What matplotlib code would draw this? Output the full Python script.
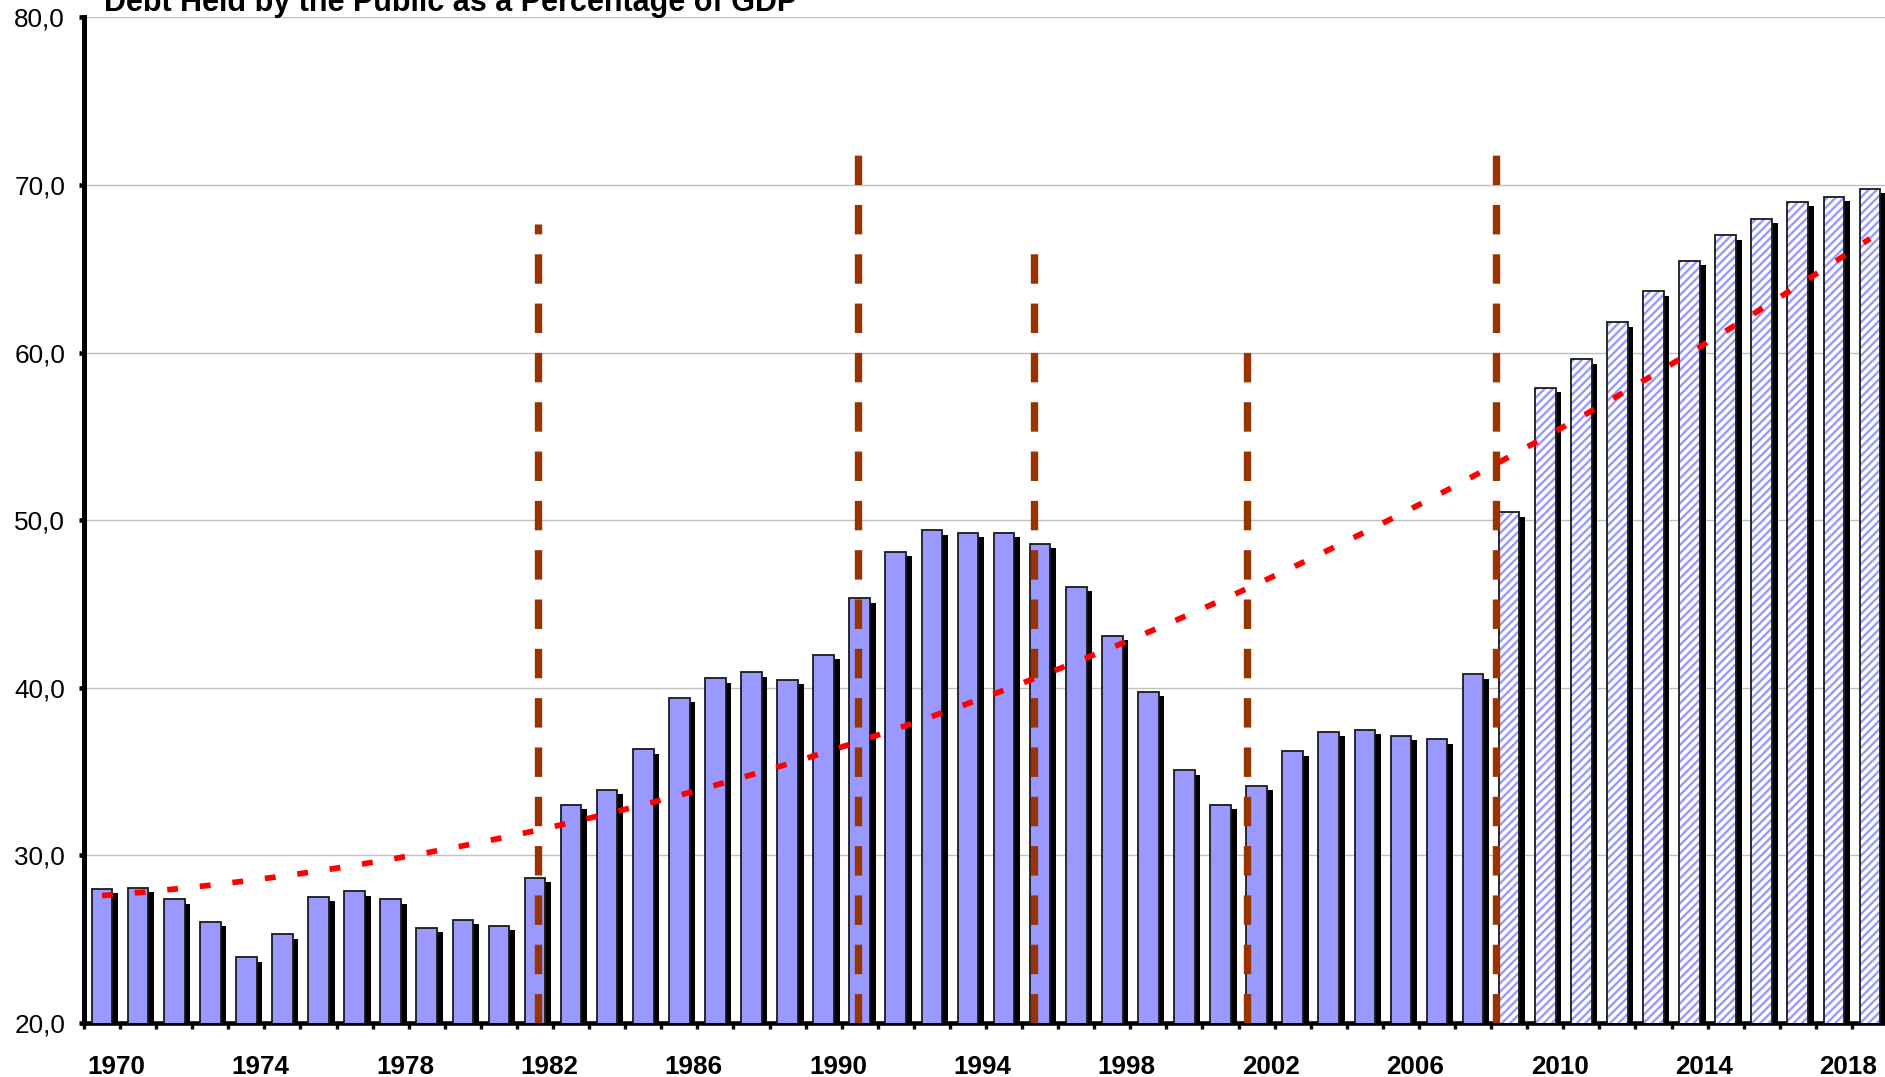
import matplotlib
matplotlib.use("Agg")
import matplotlib.pyplot as plt
from matplotlib.ticker import FuncFormatter

plt.rcParams['font.family'] = ['Liberation Sans', 'DejaVu Sans']
plt.rcParams['hatch.linewidth'] = 1.7

title = "Debt Held by the Public as a Percentage of GDP"

years = list(range(1970, 2020))
debt = [27.99, 28.08, 27.39, 26.03, 23.92, 25.30, 27.51, 27.85, 27.39, 25.67,
        26.15, 25.79, 28.65, 33.02, 33.91, 36.33, 39.40, 40.56, 40.92, 40.46,
        41.95, 45.33, 48.13, 49.40, 49.26, 49.26, 48.60, 46.04, 43.10, 39.76,
        35.08, 33.02, 34.15, 36.21, 37.38, 37.48, 37.14, 36.93, 40.80, 50.48,
        57.89, 59.60, 61.81, 63.66, 65.48, 66.99, 67.99, 68.98, 69.28, 69.76]
# trend line (one value per year)
trend = [27.60, 27.78, 27.99, 28.22, 28.48, 28.76, 29.07, 29.41, 29.77, 30.16,
         30.57, 31.01, 31.47, 31.96, 32.48, 33.02, 33.59, 34.19, 34.81, 35.45,
         36.12, 36.82, 37.54, 38.29, 39.06, 39.86, 40.69, 41.54, 42.41, 43.32,
         44.25, 45.20, 46.18, 47.19, 48.23, 49.29, 50.37, 51.48, 52.62, 53.78,
         54.96, 56.17, 57.41, 58.67, 59.96, 61.28, 62.62, 63.99, 65.38, 66.80]
first_projected = 2009

# brown dashed markers: position (fractional year) and height
event_years = [1982.09, 1990.94, 1995.82, 2001.73, 2008.64]
event_tops = [67.7, 71.9, 66.1, 60.3, 72.1]

label_years = years[::4]

bar_color = '#9999FF'
edge_color = '#1a1a1a'
bar_w = 0.573
shadow_dx = 0.157
shadow_dy = 0.26

fig = plt.figure(figsize=(18.85, 10.77), dpi=100)
ax = fig.add_axes([84 / 1885, 1 - 1023 / 1077, (1888 - 84) / 1885, (1023 - 17.4) / 1077])

# shadows
ax.bar([y + shadow_dx for y in years], [d - shadow_dy for d in debt], bar_w,
       color='black', linewidth=0, zorder=2)

hist_x = [y for y in years if y < first_projected]
hist_v = [d for y, d in zip(years, debt) if y < first_projected]
proj_x = [y for y in years if y >= first_projected]
proj_v = [d for y, d in zip(years, debt) if y >= first_projected]

ax.bar(hist_x, hist_v, bar_w, color=bar_color, edgecolor=edge_color,
       linewidth=1.3, zorder=3)
ax.bar(proj_x, proj_v, bar_w, color='white', edgecolor=bar_color,
       hatch='////', linewidth=0, zorder=3)
ax.bar(proj_x, proj_v, bar_w, color='none', edgecolor=edge_color,
       linewidth=1.3, zorder=3)

for x, top in zip(event_years, event_tops):
    ax.plot([x, x], [20, top], color='#993300', lw=5.3,
            linestyle=(0, (4.0, 2.7)), dash_capstyle='butt', zorder=4)

ax.plot(years, trend, color='#FF0000', lw=4.1, linestyle=(0, (1.9, 3.85)),
        dash_capstyle='butt', zorder=5)

ax.set_xlim(years[0] - 0.5, years[-1] + 0.5)
ax.set_ylim(20, 80)
ax.set_yticks(range(20, 81, 10))
ax.yaxis.set_major_formatter(FuncFormatter(lambda v, p: f"{v:.1f}".replace('.', ',')))
ax.yaxis.grid(True, color='#C0C0C0', linewidth=1.0)
ax.set_axisbelow(True)

ax.set_xticks([y + 0.5 for y in years[:-1]] + [years[0] - 0.5])
ax.set_xticklabels([])
ax.set_xticks([y + 0.4 for y in label_years], minor=True)
ax.set_xticklabels([str(y) for y in label_years], minor=True,
                   fontsize=18.7, fontweight='bold')

ax.tick_params(axis='x', which='major', direction='out', length=4.3, width=2.4)
ax.tick_params(axis='x', which='minor', length=0, pad=23)
ax.tick_params(axis='y', direction='out', length=3.6, width=3.3, pad=10,
               labelsize=18.8)

for side in ('top', 'right'):
    ax.spines[side].set_visible(False)
ax.spines['left'].set_linewidth(3.6)
ax.spines['bottom'].set_linewidth(3.3)

fig.text(104 / 1885, 1 - 11 / 1077, title, fontsize=22, fontweight='bold',
         va='baseline', ha='left')

fig.savefig('out.png', dpi=100)
